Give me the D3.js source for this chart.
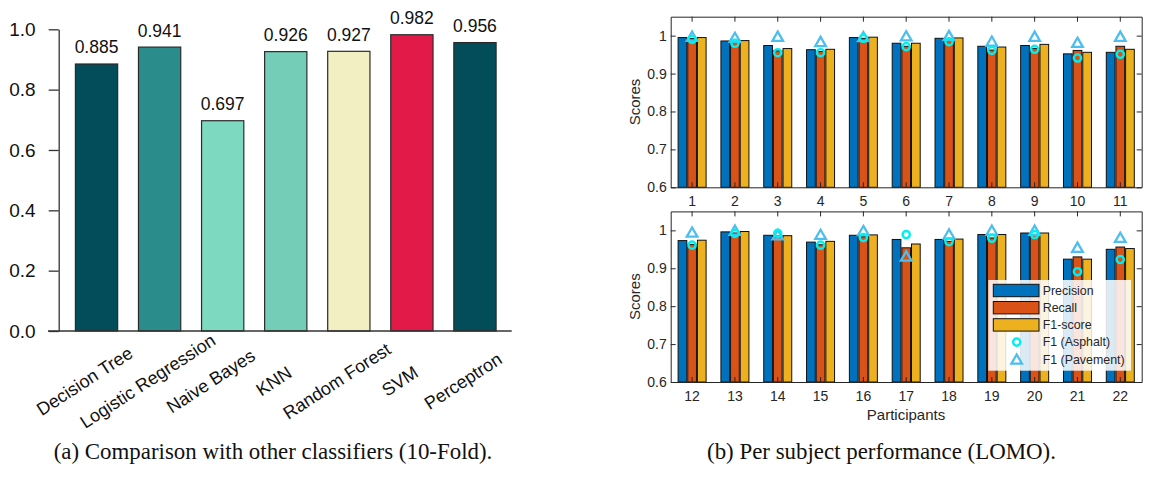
<!DOCTYPE html>
<html>
<head>
<meta charset="utf-8">
<script src="https://cdn.jsdelivr.net/npm/d3@7"></script>
<style>
  body { margin: 0; background: #fff; }
  svg { display: block; }
</style>
</head>
<body>
<svg id="chart" width="1160" height="480"></svg>
<script>
// (a) 10-fold accuracy per classifier
const classifiers = ["Decision Tree", "Logistic Regression", "Naive Bayes", "KNN", "Random Forest", "SVM", "Perceptron"];
const accuracy = [0.885, 0.941, 0.697, 0.926, 0.927, 0.982, 0.956];
const classifierColors = ["#034c5a", "#2b8c8c", "#7dd9bf", "#74ceb7", "#f2efc2", "#e21a48", "#034c5a"];
const accTicks = [0, 0.2, 0.4, 0.6, 0.8, 1.0];

// (b) LOMO per participant
const participants = ["1", "2", "3", "4", "5", "6", "7", "8", "9", "10", "11",
  "12", "13", "14", "15", "16", "17", "18", "19", "20", "21", "22"];
const precision = [0.995, 0.986, 0.974, 0.963, 0.995, 0.980, 0.993, 0.972, 0.974, 0.952, 0.956,
  0.973, 0.996, 0.987, 0.969, 0.987, 0.976, 0.976, 0.989, 0.993, 0.924, 0.950];
const recall = [0.993, 0.982, 0.960, 0.958, 0.993, 0.972, 0.987, 0.962, 0.966, 0.961, 0.972,
  0.963, 0.993, 0.985, 0.962, 0.983, 0.954, 0.971, 0.980, 0.989, 0.930, 0.956];
const f1 = [0.995, 0.987, 0.966, 0.964, 0.996, 0.980, 0.994, 0.970, 0.977, 0.956, 0.964,
  0.974, 0.997, 0.986, 0.971, 0.988, 0.964, 0.977, 0.989, 0.993, 0.924, 0.952];
const f1Asphalt = [0.990, 0.980, 0.955, 0.955, 0.993, 0.971, 0.984, 0.961, 0.964, 0.941, 0.951,
  0.961, 0.992, 0.992, 0.961, 0.981, 0.989, 0.970, 0.979, 0.989, 0.891, 0.923];
const f1Pavement = [0.998, 0.995, 0.998, 0.984, 0.997, 0.999, 1.000, 0.985, 0.998, 0.982, 0.998,
  0.995, 1.000, 0.988, 0.989, 0.999, 0.932, 0.990, 1.000, 1.000, 0.955, 0.981];
const scoreTicks = [0.6, 0.7, 0.8, 0.9, 1];
const metrics = ["Precision", "Recall", "F1-score"];
const metricColors = ["#0072bd", "#d95319", "#edb120"];

const sans = "'Liberation Sans', Arial, Helvetica, sans-serif";
const serif = "'Liberation Serif', 'Times New Roman', serif";

const svg = d3.select("#chart");
svg.append("rect").attr("width", 1160).attr("height", 480).attr("fill", "#fff");

// ---------- panel (a) ----------
const xA = d3.scaleBand().domain(classifiers).range([65, 506.5])
  .paddingInner(0.33).paddingOuter(0.165);
const yA = d3.scaleLinear().domain([0, 1]).range([331, 29.3]);

const gA = svg.append("g").attr("font-family", sans);

gA.selectAll("rect.bar")
  .data(classifiers)
  .join("rect")
  .attr("class", "bar")
  .attr("x", d => xA(d))
  .attr("y", (d, i) => yA(accuracy[i]))
  .attr("width", xA.bandwidth())
  .attr("height", (d, i) => yA(0) - yA(accuracy[i]))
  .attr("fill", (d, i) => classifierColors[i])
  .attr("stroke", "#2b2b2b")
  .attr("stroke-width", 1.2);

gA.selectAll("text.val")
  .data(classifiers)
  .join("text")
  .attr("class", "val")
  .attr("x", d => xA(d) + xA.bandwidth() / 2)
  .attr("y", (d, i) => yA(accuracy[i]) - 10.5)
  .attr("text-anchor", "middle")
  .attr("font-size", 17.5)
  .attr("fill", "#111")
  .text((d, i) => accuracy[i].toFixed(3));

const axA = gA.append("g")
  .attr("transform", "translate(58.7,0)")
  .call(d3.axisLeft(yA).tickValues(accTicks).tickFormat(d3.format(".1f"))
    .tickSize(10).tickSizeOuter(0).tickPadding(13));
axA.attr("font-family", null).attr("font-size", null);
axA.selectAll("text").attr("font-size", 19).attr("fill", "#111");
axA.selectAll("line, path").attr("stroke", "#333").attr("stroke-width", 1.3);

gA.append("line")
  .attr("x1", 48).attr("x2", 511.7)
  .attr("y1", yA(0)).attr("y2", yA(0))
  .attr("stroke", "#333").attr("stroke-width", 1.3);

gA.selectAll("text.cat")
  .data(classifiers)
  .join("text")
  .attr("class", "cat")
  .attr("transform", d => `translate(${xA(d) + xA.bandwidth() / 2 - 12},381) rotate(-33)`)
  .attr("text-anchor", "middle")
  .attr("dy", "0.35em")
  .attr("font-size", 18)
  .attr("fill", "#111")
  .text(d => d);

svg.append("text")
  .attr("x", 273).attr("y", 459)
  .attr("text-anchor", "middle")
  .attr("font-family", serif)
  .attr("font-size", 22.9)
  .attr("fill", "#111")
  .text("(a) Comparison with other classifiers (10-Fold).");

// ---------- panel (b) ----------
const left = 670.7, right = 1141.7;
const inner = d3.scaleBand().domain(metrics).range([-14, 14]).paddingInner(0.1);
const ink = "#262626";

function triangle(cx, cy) {
  return `M${cx},${cy - 4.8}L${cx + 5.3},${cy + 4.4}L${cx - 5.3},${cy + 4.4}Z`;
}

function drawScores(ids, top, bottom, withLegend) {
  const x = d3.scaleBand().domain(ids).range([left, right]);
  const y = d3.scaleLinear().domain([0.6, 1.05]).range([bottom, top]);
  const g = svg.append("g").attr("font-family", sans);

  const rows = ids.map(id => {
    const i = participants.indexOf(id);
    return { id, vals: [precision[i], recall[i], f1[i]], asph: f1Asphalt[i], pave: f1Pavement[i] };
  });

  const groups = g.selectAll("g.grp").data(rows).join("g")
    .attr("class", "grp")
    .attr("transform", d => `translate(${x(d.id) + x.bandwidth() / 2},0)`);

  groups.selectAll("rect")
    .data(d => d.vals.map((v, k) => ({ v, k })))
    .join("rect")
    .attr("x", d => inner(metrics[d.k]))
    .attr("width", inner.bandwidth())
    .attr("y", d => y(d.v))
    .attr("height", d => y(0.6) - y(d.v))
    .attr("fill", d => metricColors[d.k])
    .attr("stroke", "#111")
    .attr("stroke-width", 1);

  groups.append("path")
    .attr("d", d => triangle(0, y(d.pave)))
    .attr("fill", "none")
    .attr("stroke", "#4dbeee")
    .attr("stroke-width", 2.3);

  groups.append("circle")
    .attr("cy", d => y(d.asph))
    .attr("r", 3.6)
    .attr("fill", "none")
    .attr("stroke", "#00f0f0")
    .attr("stroke-width", 2.4);

  const axes = g.append("g");
  axes.append("g").attr("transform", `translate(0,${bottom})`)
    .call(d3.axisBottom(x).tickSize(-5).tickSizeOuter(0).tickPadding(9));
  axes.append("g").attr("transform", `translate(0,${top})`)
    .call(d3.axisTop(x).tickSize(-5).tickSizeOuter(0).tickFormat(""));
  axes.append("g").attr("transform", `translate(${left},0)`)
    .call(d3.axisLeft(y).tickValues(scoreTicks).tickSize(-5).tickSizeOuter(0).tickPadding(4)
      .tickFormat(d => d === 1 ? "1" : d.toFixed(1)));
  axes.append("g").attr("transform", `translate(${right},0)`)
    .call(d3.axisRight(y).tickValues(scoreTicks).tickSize(-5).tickSizeOuter(0).tickFormat(""));
  axes.selectAll("g").attr("font-family", null).attr("font-size", null);
  axes.selectAll("path, line").attr("stroke", ink).attr("stroke-width", 1);
  axes.selectAll("text").attr("font-size", 14).attr("fill", ink);

  g.append("text")
    .attr("transform", `translate(635,${(top + bottom) / 2}) rotate(-90)`)
    .attr("text-anchor", "middle")
    .attr("dy", "0.35em")
    .attr("font-size", 15)
    .attr("fill", ink)
    .text("Scores");

  if (withLegend) {
    const lg = g.append("g").attr("transform", "translate(988.3,280)");
    lg.append("rect").attr("width", 142.7).attr("height", 90.7)
      .attr("fill", "#fff").attr("fill-opacity", 0.86);
    const rowY = k => 10.5 + k * 17.2;
    metrics.forEach((m, k) => {
      lg.append("rect").attr("x", 5).attr("y", rowY(k) - 6.2).attr("width", 45.7).attr("height", 12.4)
        .attr("fill", metricColors[k]).attr("stroke", "#111").attr("stroke-width", 1);
    });
    lg.append("circle").attr("cx", 28.4).attr("cy", rowY(3)).attr("r", 3.6)
      .attr("fill", "none").attr("stroke", "#00f0f0").attr("stroke-width", 2.4);
    lg.append("path").attr("d", triangle(28.4, rowY(4)))
      .attr("fill", "none").attr("stroke", "#4dbeee").attr("stroke-width", 2.3);
    const labels = metrics.concat(["F1 (Asphalt)", "F1 (Pavement)"]);
    lg.selectAll("text.lg").data(labels).join("text")
      .attr("class", "lg")
      .attr("x", 54.4)
      .attr("y", (d, k) => rowY(k))
      .attr("dy", "0.35em")
      .attr("font-size", 12.4)
      .attr("fill", ink)
      .text(d => d);
  }
}

drawScores(participants.slice(0, 11), 16.7, 187.3, false);
drawScores(participants.slice(11), 211.4, 382, true);

svg.append("text")
  .attr("x", 906).attr("y", 420)
  .attr("text-anchor", "middle")
  .attr("font-family", sans)
  .attr("font-size", 15)
  .attr("fill", ink)
  .text("Participants");

svg.append("text")
  .attr("x", 881.5).attr("y", 459)
  .attr("text-anchor", "middle")
  .attr("font-family", serif)
  .attr("font-size", 22.9)
  .attr("fill", "#111")
  .text("(b) Per subject performance (LOMO).");
</script>
</body>
</html>
